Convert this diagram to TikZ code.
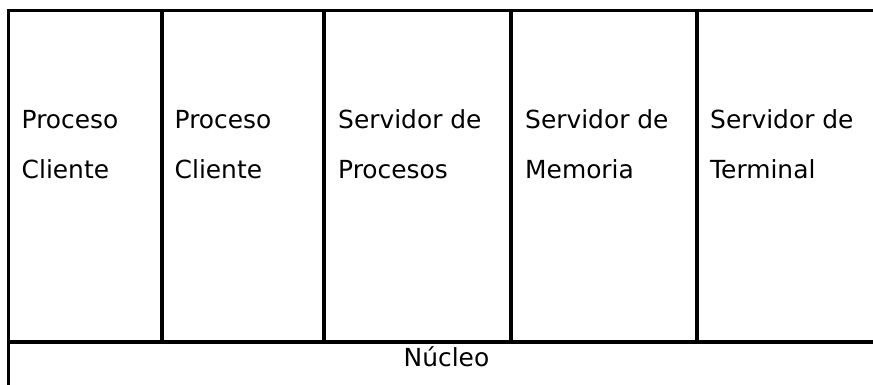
\documentclass[tikz,border=0pt]{standalone}
\usepackage{fontspec}
\setmainfont{DejaVu Sans}
\begin{document}
\begin{tikzpicture}[x=1pt,y=-1pt,
  rule/.style={draw=black,line width=3.2pt},
  cell/.style={anchor=base west,inner sep=0pt,align=left,font=\fontsize{24.9}{50}\selectfont},
  label/.style={anchor=base,inner sep=0pt,font=\fontsize{24.9}{50}\selectfont}]
\useasboundingbox (0,0) rectangle (873,385);
\coordinate (lb) at (8.5,385);
\coordinate (tl) at (8.5,10.5);
\coordinate (tr) at (873,10.5);
\coordinate (ml) at (8.5,342);
\coordinate (mr) at (873,342);
\draw[rule] (lb) -- (tl) -- (tr);
\draw[rule] (ml) -- (mr);
\foreach \xx in {162,324,511,697} \draw[rule] (\xx,10.5) -- (\xx,342);
\node[cell] (c1) at (21.5,178.3) {Proceso\\Cliente};
\node[cell] (c2) at (174.5,178.3) {Proceso\\Cliente};
\node[cell] (c3) at (338,178.3) {Servidor de\\Procesos};
\node[cell] (c4) at (525,178.3) {Servidor de\\Memoria};
\node[cell] (c5) at (710,178.3) {Servidor de\\Terminal};
\node[label] (nucleo) at (446.5,366.7) {Núcleo};
\end{tikzpicture}
\end{document}
